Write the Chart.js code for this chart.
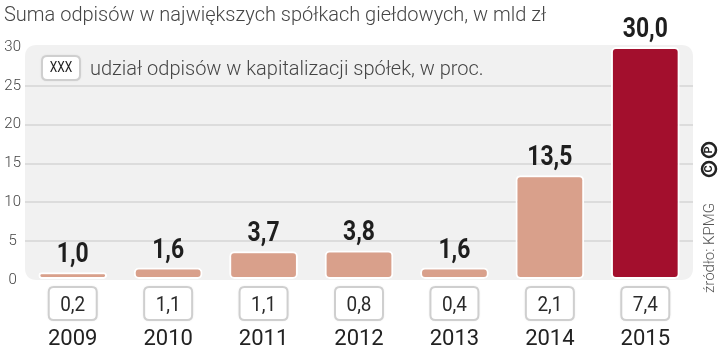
<!DOCTYPE html>
<html>
<head>
<meta charset="utf-8">
<script src="https://cdn.jsdelivr.net/npm/chart.js@4"></script>
<style>
    body { margin: 0; background: white; }
    #wrap { width: 720px; height: 349px; position: relative; }
</style>
</head>
<body>
<div id="wrap"><canvas id="myChart" width="720" height="349"></canvas></div>
<script>
// data
let years = ['2009', '2010', '2011', '2012', '2013', '2014', '2015'];
let writeoffs = [1.0, 1.6, 3.7, 3.8, 1.6, 13.5, 30.0];      // mld zl
let share = [0.2, 1.1, 1.1, 0.8, 0.4, 2.1, 7.4];            // % of capitalisation
let bar_colors = ['#d9a08b', '#d9a08b', '#d9a08b', '#d9a08b', '#d9a08b', '#d9a08b', '#a30f2d'];
let y_max = 30;
let y_step = 5;

let title_text = 'Suma odpisów w największych spółkach giełdowych, w mld zł';
let legend_text = 'udział odpisów w kapitalizacji spółek, w proc.';
let source_text = 'źródło: KPMG';

function pl(v) {
    return v.toFixed(1).replace('.', ',');
}

function round_rect(ctx, x, y, w, h, r) {
    ctx.beginPath();
    ctx.moveTo(x + r, y);
    ctx.lineTo(x + w - r, y);
    ctx.quadraticCurveTo(x + w, y, x + w, y + r);
    ctx.lineTo(x + w, y + h - r);
    ctx.quadraticCurveTo(x + w, y + h, x + w - r, y + h);
    ctx.lineTo(x + r, y + h);
    ctx.quadraticCurveTo(x, y + h, x, y + h - r);
    ctx.lineTo(x, y + r);
    ctx.quadraticCurveTo(x, y, x + r, y);
    ctx.closePath();
}

function small_box(ctx, x, y, w, h) {
    ctx.save();
    ctx.shadowColor = 'rgba(0,0,0,0.15)';
    ctx.shadowBlur = 3;
    round_rect(ctx, x, y, w, h, 5);
    ctx.fillStyle = 'white';
    ctx.fill();
    ctx.restore();
    round_rect(ctx, x, y, w, h, 5);
    ctx.strokeStyle = '#cfcfcf';
    ctx.lineWidth = 2;
    ctx.stroke();
}

// condensed look: squeeze the text horizontally
function narrow_text(ctx, txt, x, y, sx) {
    ctx.save();
    ctx.translate(x, y);
    ctx.scale(sx, 1);
    ctx.fillText(txt, 0, 0);
    ctx.restore();
}

// grey panel behind the plot
let panel_plugin = {
    id: 'panel',
    beforeDraw(chart) {
        let a = chart.chartArea;
        let ctx = chart.ctx;
        ctx.save();
        round_rect(ctx, a.left, a.top - 2, a.right - a.left, a.bottom - a.top + 2, 12);
        ctx.fillStyle = '#f1f1f1';
        ctx.fill();
        ctx.restore();
    }
};

// labels, share boxes, title, legend, source
let extras_plugin = {
    id: 'extras',
    afterDraw(chart) {
        let ctx = chart.ctx;
        let xs = chart.scales.x;
        let ys = chart.scales.y;
        ctx.save();

        ctx.fillStyle = '#454545';
        ctx.font = '300 20px Roboto';
        ctx.textAlign = 'left';
        ctx.textBaseline = 'alphabetic';
        ctx.fillText(title_text, 4, 21);

        small_box(ctx, 42, 56, 38, 24);
        ctx.fillStyle = '#222';
        ctx.font = '15px Roboto';
        ctx.textAlign = 'center';
        ctx.textBaseline = 'middle';
        narrow_text(ctx, 'XXX', 61, 68, 0.8);
        ctx.fillStyle = '#454545';
        ctx.font = '300 20px Roboto';
        ctx.textAlign = 'left';
        ctx.textBaseline = 'alphabetic';
        ctx.fillText(legend_text, 90, 75);

        for (let i = 0; i < years.length; i++) {
            let cx = xs.getPixelForValue(i);
            let top = ys.getPixelForValue(writeoffs[i]);
            ctx.fillStyle = '#1e1e1e';
            ctx.font = 'bold 27px Roboto';
            ctx.textAlign = 'center';
            ctx.textBaseline = 'alphabetic';
            narrow_text(ctx, pl(writeoffs[i]), cx, top - 10, 0.85);

            small_box(ctx, cx - 24, 287, 48, 33);
            ctx.fillStyle = '#2a2a2a';
            ctx.font = '21px Roboto';
            narrow_text(ctx, pl(share[i]), cx, 311, 0.9);
        }

        // source, rotated
        ctx.translate(714, 293);
        ctx.rotate(-Math.PI / 2);
        ctx.fillStyle = '#555';
        ctx.font = '300 15px Roboto';
        ctx.textAlign = 'left';
        ctx.fillText(source_text, 0, 0);
        // little circled C / P mark
        ctx.lineWidth = 2.5;
        ctx.strokeStyle = '#222';
        ctx.fillStyle = '#222';
        ctx.font = 'bold 11px Roboto';
        ctx.textAlign = 'center';
        ctx.textBaseline = 'middle';
        let marks = [['C', 124], ['P', 143]];
        for (let m of marks) {
            ctx.beginPath();
            ctx.arc(m[1], -5, 7, 0, Math.PI * 2);
            ctx.stroke();
            ctx.fillText(m[0], m[1], -4.5);
        }
        ctx.restore();
    }
};

var ctx = document.getElementById('myChart');
var chart = new Chart(ctx, {
    type: 'bar',
    data: {
        labels: years,
        datasets: [
            {
                label: 'odpisy',
                data: writeoffs,
                backgroundColor: bar_colors,
                borderColor: 'white',
                borderWidth: 2,
                borderRadius: 5,
                borderSkipped: false,
                barPercentage: 0.72,
                categoryPercentage: 1
            }
        ]
    },
    options: {
        responsive: false,
        animation: false,
        layout: { padding: { top: 47, right: 27, left: 0, bottom: 0 } },
        scales: {
            x: {
                grid: { display: false, drawTicks: false },
                border: { display: false },
                ticks: {
                    color: '#222',
                    font: { family: 'Roboto', size: 22 },
                    padding: 46
                },
                afterFit(scale) { scale.height = 69; }
            },
            y: {
                min: 0,
                max: y_max,
                grid: {
                    drawTicks: false,
                    lineWidth: 2,
                    color: (c) => (c.tick.value == 0 || c.tick.value == y_max) ? 'rgba(0,0,0,0)' : '#dcdcdc'
                },
                border: { display: false },
                ticks: {
                    stepSize: y_step,
                    color: '#444',
                    font: { family: 'Roboto', size: 15, weight: '300' },
                    crossAlign: 'center',
                    padding: 4
                },
                afterFit(scale) { scale.width = 25; }
            }
        },
        plugins: {
            legend: { display: false },
            tooltip: { enabled: false }
        }
    },
    plugins: [panel_plugin, extras_plugin]
});
</script>
</body>
</html>
